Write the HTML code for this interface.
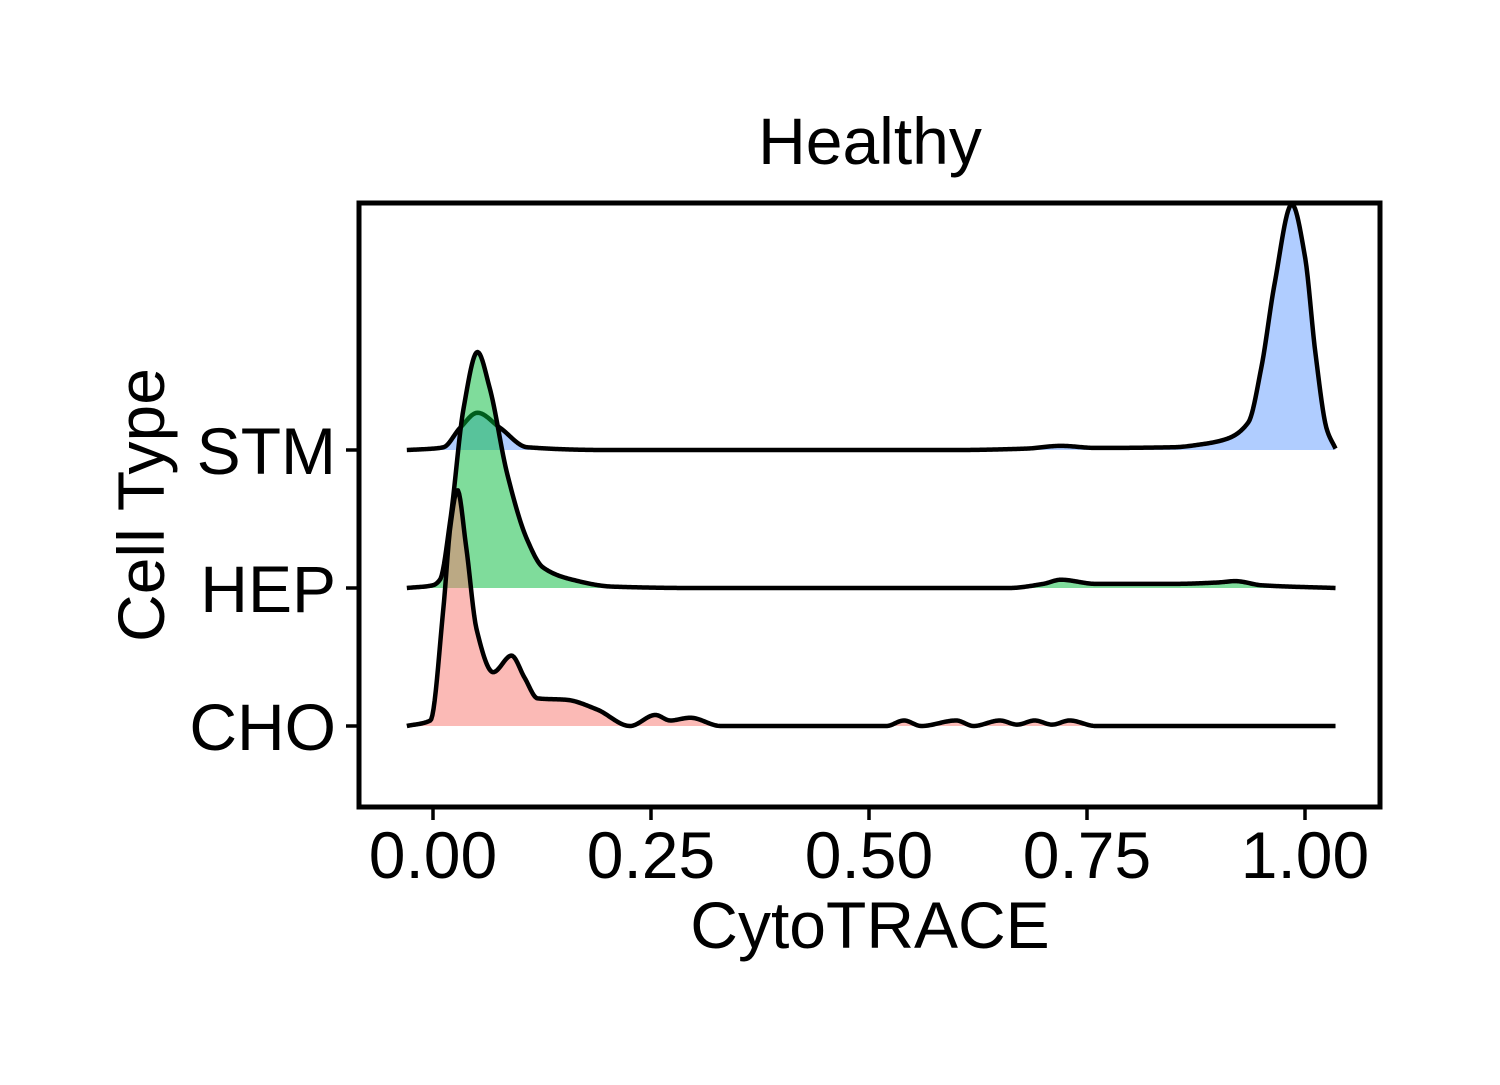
<!DOCTYPE html>
<html><head><meta charset="utf-8"><style>
body{margin:0;background:#fff}
svg text{font-family:"Liberation Sans",sans-serif;fill:#000}
</style></head><body>
<svg id="chart" width="1500" height="1080" xmlns="http://www.w3.org/2000/svg">
<rect width="1500" height="1080" fill="#fff"/>
<text x="870" y="164" font-size="66" text-anchor="middle">Healthy</text>
<g id="ridges"></g>
<rect x="359" y="203" width="1021" height="604" fill="none" stroke="#000" stroke-width="5"/>
<g id="axes"></g>
<text x="870" y="948" font-size="66" text-anchor="middle">CytoTRACE</text>
<text transform="translate(164,505) rotate(-90)" font-size="66" text-anchor="middle">Cell Type</text>
</svg>
<script>
const categories = ["CHO","HEP","STM"];
const xTicks = [0, 0.25, 0.5, 0.75, 1.0];
const xTickLabels = ["0.00","0.25","0.50","0.75","1.00"];
const stmX = [-0.03,0.0,0.012,0.031,0.051,0.077,0.108,0.2,0.6,0.68,0.72,0.76,0.85,0.88,0.91,0.935,0.95,0.965,0.985,1.0,1.012,1.025,1.035];
const stmY = [0,0.01,0.02,0.16,0.27,0.16,0.02,0.0,0.0,0.01,0.03,0.015,0.02,0.04,0.08,0.2,0.6,1.2,1.78,1.4,0.7,0.15,0.01];
const hepX = [-0.03,0.0,0.008,0.02,0.035,0.051,0.065,0.085,0.108,0.126,0.16,0.206,0.3,0.66,0.7,0.72,0.76,0.85,0.9,0.92,0.95,1.035];
const hepY = [0,0.02,0.06,0.5,1.3,1.71,1.45,0.83,0.35,0.15,0.06,0.01,0.0,0.0,0.03,0.06,0.03,0.03,0.04,0.05,0.02,0.0];
const choX = [-0.03,-0.003,0.012,0.02,0.028,0.038,0.05,0.069,0.09,0.105,0.12,0.153,0.188,0.226,0.255,0.272,0.295,0.33,0.52,0.54,0.56,0.6,0.62,0.65,0.67,0.69,0.71,0.73,0.76,1.035];
const choY = [0,0.04,0.86,1.45,1.71,1.3,0.7,0.39,0.51,0.35,0.2,0.19,0.12,0.0,0.08,0.04,0.06,0.0,0.0,0.04,0.0,0.04,0.0,0.04,0.01,0.04,0.01,0.04,0.0,0.0];
const series = [
 {name:"stm", x:stmX, y:stmY, base:2, fill:"rgba(97,156,255,0.5)"},
 {name:"hep", x:hepX, y:hepY, base:1, fill:"rgba(0,186,56,0.5)"},
 {name:"cho", x:choX, y:choY, base:0, fill:"rgba(248,118,109,0.5)"}
];
const sx = v => 433 + v*872;
const sy = (base, h) => 726 - base*138 - h*138;
const NS = "http://www.w3.org/2000/svg";
// monotone cubic (Fritsch-Carlson) interpolation
function monotone(xs, ys){
  const n = xs.length, d = [], m = new Array(n);
  for(let i=0;i<n-1;i++) d.push((ys[i+1]-ys[i])/(xs[i+1]-xs[i]));
  m[0]=d[0]; m[n-1]=d[n-2];
  for(let i=1;i<n-1;i++){
    if(d[i-1]*d[i]<=0) m[i]=0;
    else { const w1=2*(xs[i+1]-xs[i])+(xs[i]-xs[i-1]), w2=(xs[i+1]-xs[i])+2*(xs[i]-xs[i-1]);
      m[i]=(w1+w2)/(w1/d[i-1]+w2/d[i]); }
  }
  return t=>{
    let i=0; while(i<n-2 && t>xs[i+1]) i++;
    const h=xs[i+1]-xs[i], s=(t-xs[i])/h;
    const h00=2*s*s*s-3*s*s+1,h10=s*s*s-2*s*s+s,h01=-2*s*s*s+3*s*s,h11=s*s*s-s*s;
    return h00*ys[i]+h10*h*m[i]+h01*ys[i+1]+h11*h*m[i+1];
  };
}
const g = document.getElementById("ridges");
series.forEach(s=>{
  const by = sy(s.base,0);
  const f0 = monotone(s.x, s.y);
  const x0 = s.x[0], x1 = s.x[s.x.length-1], N = 800;
  const pts = [];
  for(let k=0;k<=N;k++){ const t=x0+(x1-x0)*k/N; pts.push([sx(t).toFixed(2), sy(s.base, Math.max(0,f0(t))).toFixed(2)]); }
  const line = "M"+pts.map(p=>p.join(",")).join(" L");
  const f = document.createElementNS(NS,"path");
  f.setAttribute("d", line+` L${pts[pts.length-1][0]},${by} L${pts[0][0]},${by} Z`);
  f.setAttribute("fill", s.fill);
  
  
  g.appendChild(f);
  const l = document.createElementNS(NS,"path");
  l.setAttribute("d", line);
  l.setAttribute("fill","none"); l.setAttribute("stroke","#000"); l.setAttribute("stroke-width","4.5");
  l.setAttribute("stroke-linejoin","round");
  
  
  g.appendChild(l);
});
const ax = document.getElementById("axes");
categories.forEach((c,i)=>{
  const y = sy(i,0);
  const t = document.createElementNS(NS,"line");
  t.setAttribute("x1",346); t.setAttribute("x2",359); t.setAttribute("y1",y); t.setAttribute("y2",y);
  t.setAttribute("stroke","#000"); t.setAttribute("stroke-width","3.5");
  
  
  ax.appendChild(t);
  const tx = document.createElementNS(NS,"text");
  tx.setAttribute("x",336); tx.setAttribute("y",y+24); tx.setAttribute("font-size","66"); tx.setAttribute("text-anchor","end");
  tx.textContent = c;
  
  
  ax.appendChild(tx);
});
xTicks.forEach((v,i)=>{
  const x = sx(v);
  const t = document.createElementNS(NS,"line");
  t.setAttribute("x1",x); t.setAttribute("x2",x); t.setAttribute("y1",807); t.setAttribute("y2",820);
  t.setAttribute("stroke","#000"); t.setAttribute("stroke-width","3.5");
  
  
  ax.appendChild(t);
  const tx = document.createElementNS(NS,"text");
  tx.setAttribute("x",x); tx.setAttribute("y",878); tx.setAttribute("font-size","66"); tx.setAttribute("text-anchor","middle");
  tx.textContent = xTickLabels[i];
  
  
  ax.appendChild(tx);
});
</script>
</body></html>
